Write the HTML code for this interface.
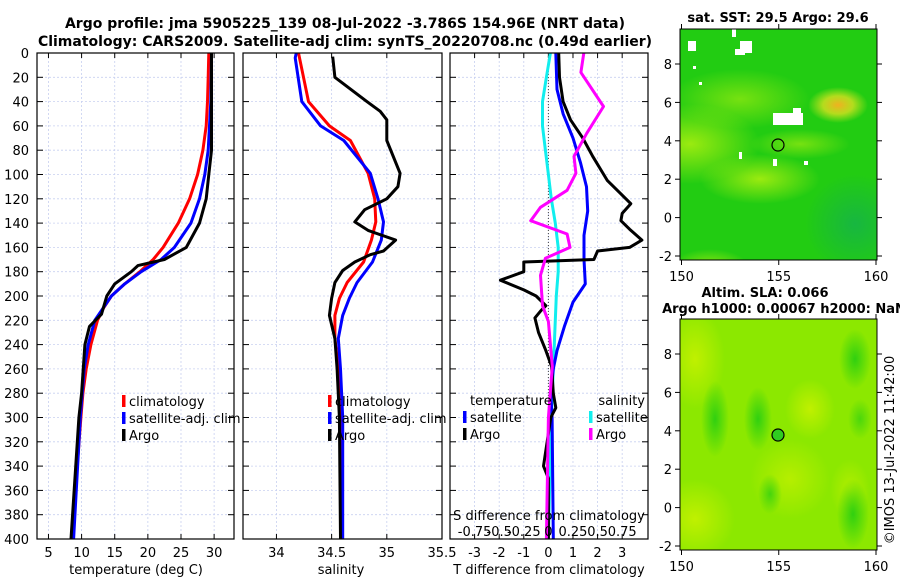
<!DOCTYPE html>
<html><head><meta charset="utf-8"><style>
body{margin:0;background:#fff;width:900px;height:580px;overflow:hidden}
svg{font-family:"DejaVu Sans","Liberation Sans",sans-serif}
</style></head><body>
<svg id="fig" width="900" height="580" viewBox="0 0 900 580" xmlns="http://www.w3.org/2000/svg">
<defs>
<radialGradient id="gy" cx="50%" cy="50%" r="50%"><stop offset="0" stop-color="#a8ee10" stop-opacity="0.9"/><stop offset="1" stop-color="#a8ee10" stop-opacity="0"/></radialGradient>
<radialGradient id="go" cx="50%" cy="50%" r="50%"><stop offset="0" stop-color="#f0b020"/><stop offset="0.5" stop-color="#d8e020" stop-opacity="0.8"/><stop offset="1" stop-color="#c8e820" stop-opacity="0"/></radialGradient>
<radialGradient id="gt" cx="50%" cy="50%" r="50%"><stop offset="0" stop-color="#10a860" stop-opacity="0.6"/><stop offset="1" stop-color="#10a860" stop-opacity="0"/></radialGradient>
<radialGradient id="gg" cx="50%" cy="50%" r="50%"><stop offset="0" stop-color="#30d010"/><stop offset="1" stop-color="#30d010" stop-opacity="0"/></radialGradient>
<radialGradient id="gl" cx="50%" cy="50%" r="50%"><stop offset="0" stop-color="#c0f000"/><stop offset="1" stop-color="#c0f000" stop-opacity="0"/></radialGradient>
</defs>
<g font-weight="bold" font-size="14" text-anchor="middle">
<text x="345" y="28">Argo profile: jma 5905225_139 08-Jul-2022 -3.786S 154.96E (NRT data)</text>
<text x="345" y="46">Climatology: CARS2009. Satellite-adj clim: synTS_20220708.nc (0.49d earlier)</text>
</g>
<g id="plots"></g>

<!-- SST map -->
<g>
<text x="778" y="22" font-size="13" font-weight="bold" text-anchor="middle">sat. SST: 29.5 Argo: 29.6</text>
<svg x="680" y="29" width="197" height="231" viewBox="0 0 197 231">
<rect width="197" height="231" fill="#22cc12"/>
<ellipse cx="10" cy="115" rx="70" ry="40" fill="url(#gy)"/>
<ellipse cx="80" cy="150" rx="60" ry="25" fill="url(#gy)"/>
<ellipse cx="60" cy="70" rx="70" ry="30" fill="url(#gy)" opacity="0.7"/>
<ellipse cx="120" cy="115" rx="50" ry="15" fill="url(#gy)" opacity="0.7"/>
<ellipse cx="158" cy="76" rx="30" ry="18" fill="url(#go)"/>
<ellipse cx="175" cy="195" rx="50" ry="50" fill="url(#gt)"/>
<ellipse cx="30" cy="240" rx="40" ry="20" fill="url(#gy)"/>
<rect x="8" y="12" width="8" height="10" fill="#fff"/><rect x="52" y="0" width="4" height="8" fill="#fff"/>
<rect x="60" y="12" width="12" height="12" fill="#fff"/><rect x="55" y="20" width="10" height="6" fill="#fff"/>
<rect x="93" y="84" width="30" height="12" fill="#fff"/><rect x="113" y="79" width="8" height="6" fill="#fff"/>
<rect x="59" y="123" width="3" height="7" fill="#fff"/><rect x="93" y="130" width="4" height="7" fill="#fff"/><rect x="124" y="132" width="4" height="4" fill="#fff"/>
<rect x="19" y="53" width="3" height="3" fill="#fff"/><rect x="13" y="37" width="3" height="3" fill="#fff"/>
<circle cx="98" cy="116" r="6" fill="none" stroke="#000" stroke-width="1.2"/>
</svg>
<rect x="680" y="29" width="197" height="231" fill="none" stroke="#000"/>
</g>
<!-- SLA map -->
<g>
<text x="765" y="297" font-size="13" font-weight="bold" text-anchor="middle">Altim. SLA: 0.066</text>
<text x="784" y="313" font-size="13" font-weight="bold" text-anchor="middle">Argo h1000: 0.00067 h2000: NaN</text>
<svg x="680" y="319" width="197" height="231" viewBox="0 0 197 231">
<rect width="197" height="231" fill="#8ce800"/>
<ellipse cx="15" cy="200" rx="40" ry="40" fill="url(#gl)"/>
<ellipse cx="15" cy="40" rx="30" ry="50" fill="url(#gl)"/>
<ellipse cx="110" cy="160" rx="40" ry="40" fill="url(#gl)" opacity="0.8"/>
<ellipse cx="130" cy="90" rx="25" ry="30" fill="url(#gl)"/>
<ellipse cx="170" cy="170" rx="20" ry="30" fill="url(#gl)" opacity="0.7"/>
<ellipse cx="35" cy="100" rx="14" ry="38" fill="url(#gg)"/>
<ellipse cx="78" cy="100" rx="14" ry="32" fill="url(#gg)"/>
<ellipse cx="175" cy="40" rx="16" ry="30" fill="url(#gg)"/>
<ellipse cx="173" cy="195" rx="16" ry="35" fill="url(#gg)"/>
<ellipse cx="90" cy="175" rx="12" ry="20" fill="url(#gg)" opacity="0.8"/>
<ellipse cx="180" cy="100" rx="12" ry="20" fill="url(#gg)" opacity="0.7"/>
<circle cx="98" cy="116" r="6" fill="#30cc20" stroke="#000" stroke-width="1.2"/>
</svg>
<rect x="680" y="319" width="197" height="231" fill="none" stroke="#000"/>
</g>
<text transform="translate(894,450) rotate(-90)" font-size="13" text-anchor="middle">©IMOS 13-Jul-2022 11:42:00</text>
</svg>
<script>
// ---- data ----
const depthTicks=[0,20,40,60,80,100,120,140,160,180,200,220,240,260,280,300,320,340,360,380,400];
const tTicks=[5,10,15,20,25,30];
const sTicks=[34,34.5,35,35.5];
const sTickLabels=["34","34.5","35","35.5"];
const dTicks=[-3,-2,-1,0,1,2,3];
const dsTickLabels=["-0.75","-0.5","-0.25","0","0.25","0.5","0.75"];
const dsTickVals=[-0.75,-0.5,-0.25,0,0.25,0.5,0.75];
// temperature profiles [depth, value]
const tempClim=[[0,29.2],[20,29.1],[40,29.0],[60,28.8],[80,28.3],[100,27.5],[120,26.3],[140,24.6],[160,22.3],[170,20.8],[180,18.8],[190,16.5],[200,14.5],[210,13.3],[220,12.4],[240,11.4],[260,10.7],[280,10.2],[300,9.9],[350,9.2],[400,8.6]];
const tempSat=[[0,29.6],[40,29.5],[60,29.3],[80,29.1],[100,28.6],[120,27.8],[140,26.5],[160,24.0],[170,22.0],[180,19.0],[190,16.5],[200,14.5],[220,12.0],[240,11.0],[260,10.4],[300,9.8],[400,8.8]];
const tempArgo=[[0,29.6],[60,29.6],[80,29.6],[100,29.2],[120,28.8],[140,27.8],[160,25.8],[170,22.5],[175,18.5],[180,17.5],[190,15.0],[200,13.8],[215,13.0],[225,11.2],[240,10.5],[280,10.0],[300,9.6],[400,8.4]];
// salinity profiles
const salClim=[[0,34.2],[40,34.29],[60,34.48],[72,34.67],[99,34.83],[120,34.89],[139,34.9],[154,34.86],[172,34.79],[189,34.64],[202,34.57],[216,34.53],[235,34.53],[260,34.56],[300,34.58],[400,34.58]];
const salSat=[[0,34.18],[4,34.17],[40,34.23],[60,34.4],[72,34.61],[99,34.85],[120,34.92],[139,34.97],[154,34.95],[172,34.87],[189,34.73],[202,34.66],[216,34.6],[235,34.56],[260,34.58],[300,34.6],[400,34.6]];
const salArgo=[[3,34.51],[20,34.53],[40,34.82],[48,34.94],[55,35.0],[72,35.0],[99,35.12],[110,35.1],[120,35.0],[129,34.8],[139,34.71],[146,34.83],[154,35.08],[163,34.97],[166,34.85],[172,34.71],[179,34.6],[189,34.53],[202,34.5],[216,34.48],[235,34.53],[260,34.55],[300,34.57],[400,34.58]];
// differences from climatology
const dTsat=[[0,0.3],[30,0.35],[50,0.6],[70,1.0],[90,1.3],[110,1.55],[130,1.6],[150,1.45],[170,1.45],[190,1.5],[205,1.0],[225,0.65],[245,0.35],[260,0.2],[280,0.1],[300,0.15],[400,0.2]];
const dTargo=[[0,0.42],[20,0.45],[40,0.6],[55,0.9],[70,1.4],[85,1.8],[95,2.1],[105,2.4],[115,2.9],[124,3.35],[132,3.0],[138,2.95],[145,3.3],[154,3.8],[160,3.3],[163,2.0],[170,1.85],[172,-1.0],[180,-1.0],[187,-1.95],[195,-1.0],[200,-0.5],[208,-0.1],[212,-0.3],[218,-0.55],[230,-0.4],[245,-0.1],[258,0.13],[280,0.2],[292,0.3],[300,0.1],[340,-0.2],[350,0],[400,0]];
const dSsat=[[0,0.02],[20,-0.02],[40,-0.06],[60,-0.06],[80,-0.03],[100,0.0],[120,0.03],[140,0.07],[160,0.1],[180,0.1],[200,0.08],[220,0.07],[260,0.05],[300,0.03],[400,0.0]];
const dSargo=[[0,0.36],[16,0.33],[44,0.56],[66,0.39],[85,0.26],[99,0.28],[113,0.19],[127,-0.08],[138,-0.18],[149,0.19],[160,0.22],[169,-0.03],[183,-0.08],[208,-0.06],[221,0.0],[258,0.04],[300,0.0],[400,-0.02]];

const NS='http://www.w3.org/2000/svg';
const root=document.getElementById('plots');
function mk(tag,attrs,parent){const e=document.createElementNS(NS,tag);for(const k in attrs)e.setAttribute(k,attrs[k]);(parent||root).appendChild(e);return e;}
const Y0=53,Y1=539;
function yD(d){return Y0+d/400*(Y1-Y0);}
function panel(name,x0,x1,lo,hi){
  const g=mk('g',{});
  
  
  return {g,x0,x1,sx:v=>x0+(v-lo)/(hi-lo)*(x1-x0)};
}
function grid(p,xt){
  depthTicks.forEach(d=>{mk('line',{x1:p.x0,x2:p.x1,y1:yD(d),y2:yD(d),stroke:'#c8d0f0','stroke-width':0.8,'stroke-dasharray':'2,2'},p.g);
    mk('line',{x1:p.x0,x2:p.x0+6,y1:yD(d),y2:yD(d),stroke:'#000'},p.g);mk('line',{x1:p.x1-6,x2:p.x1,y1:yD(d),y2:yD(d),stroke:'#000'},p.g);});
  xt.forEach(v=>{const x=p.sx(v);mk('line',{x1:x,x2:x,y1:Y0,y2:Y1,stroke:'#c8d0f0','stroke-width':0.8,'stroke-dasharray':'2,2'},p.g);
    mk('line',{x1:x,x2:x,y1:Y1-5,y2:Y1,stroke:'#000'},p.g);mk('line',{x1:x,x2:x,y1:Y0,y2:Y0+5,stroke:'#000'},p.g);});
}
function line(p,data,color,name,sx){
  const f=sx||p.sx;
  const pts=data.map(r=>f(r[1]).toFixed(1)+','+yD(r[0]).toFixed(1)).join(' ');
  const e=mk('polyline',{points:pts,fill:'none',stroke:color,'stroke-width':3,'stroke-linejoin':'round'},p.g);
  
  
}
function frame(p){mk('rect',{x:p.x0,y:Y0,width:p.x1-p.x0,height:Y1-Y0,fill:'none',stroke:'#000','stroke-width':1.2},p.g);}
function txt(p,x,y,s,opt){const e=mk('text',Object.assign({x,y,'font-size':13},opt||{}),p.g);e.textContent=s;return e;}
function legend(p,x,y,items){
  items.forEach((it,i)=>{const r=mk('rect',{x:x,y:y+i*17-11,width:3.5,height:12,fill:it[1]},p.g);
    const t=txt(p,x+7,y+i*17,it[0]);
    
    });
}
// panel 1
const p1=panel('temperature-panel',37,234,3.27,33.0);
grid(p1,tTicks);
line(p1,tempClim,'#f00','climatology-temperature-line');
line(p1,tempSat,'#00f','satellite-temperature-line');
line(p1,tempArgo,'#000','argo-temperature-line');
frame(p1);
depthTicks.forEach(d=>txt(p1,29,yD(d)+5,String(d),{'text-anchor':'end'}));
tTicks.forEach(v=>txt(p1,p1.sx(v),557,String(v),{'text-anchor':'middle'}));
txt(p1,136,574,'temperature (deg C)',{'text-anchor':'middle'});
legend(p1,122,406,[['climatology','#f00'],['satellite-adj. clim','#00f'],['Argo','#000']]);
// panel 2
const p2=panel('salinity-panel',243,442,33.697,35.5);
grid(p2,sTicks.slice(0,3));
line(p2,salClim,'#f00','climatology-salinity-line');
line(p2,salSat,'#00f','satellite-salinity-line');
line(p2,salArgo,'#000','argo-salinity-line');
frame(p2);
sTicks.forEach((v,i)=>txt(p2,p2.sx(v),557,sTickLabels[i],{'text-anchor':'middle'}));
txt(p2,341,574,'salinity',{'text-anchor':'middle'});
legend(p2,328,406,[['climatology','#f00'],['satellite-adj. clim','#00f'],['Argo','#000']]);
// panel 3
const p3=panel('difference-panel',450,648,-4.0,4.05);
grid(p3,dTicks);
const sxS=v=>p3.sx(v*4);
mk('line',{x1:p3.sx(0),x2:p3.sx(0),y1:Y0,y2:Y1,stroke:'#444','stroke-width':1,'stroke-dasharray':'1,2'},p3.g);
line(p3,dSsat,'#1ee','satellite-salinity-diff-line',sxS);
line(p3,dTsat,'#00f','satellite-temperature-diff-line');
line(p3,dTargo,'#000','argo-temperature-diff-line');
line(p3,dSargo,'#f0f','argo-salinity-diff-line',sxS);
frame(p3);
dTicks.forEach(v=>txt(p3,p3.sx(v),557,String(v),{'text-anchor':'middle'}));
txt(p3,549,574,'T difference from climatology',{'text-anchor':'middle'});
txt(p3,549,520,'S difference from climatology',{'text-anchor':'middle'});
dsTickVals.forEach((v,i)=>txt(p3,sxS(v),536,dsTickLabels[i],{'text-anchor':'middle'}));
txt(p3,470,405,'temperature');
txt(p3,645,405,'salinity',{'text-anchor':'end'});
legend(p3,463,422,[['satellite','#00f'],['Argo','#000']]);
legend(p3,589,422,[['satellite','#1ee'],['Argo','#f0f']]);
// map axes
const mapLonTicks=[150,155,160];
const mapLatTicks=[8,6,4,2,0,-2];
function mapAxes(top,name){
  const g=mk('g',{},document.getElementById('fig'));
  
  
  const mx=v=>681.5+(v-150)/10*194.5;
  const my=v=>top+35+(8-v)/10*192;
  mapLonTicks.forEach(v=>{mk('line',{x1:mx(v),x2:mx(v),y1:top+231,y2:top+236,stroke:'#000'},g);mk('line',{x1:mx(v),x2:mx(v),y1:top-5,y2:top,stroke:'#000'},g);
    const t=mk('text',{x:mx(v),y:top+252,'font-size':13,'text-anchor':'middle'},g);t.textContent=v;});
  mapLatTicks.forEach(v=>{mk('line',{x1:675,x2:680,y1:my(v),y2:my(v),stroke:'#000'},g);mk('line',{x1:877,x2:882,y1:my(v),y2:my(v),stroke:'#000'},g);
    const t=mk('text',{x:672,y:my(v)+5,'font-size':13,'text-anchor':'end'},g);t.textContent=v;});
}
mapAxes(29,'sst-map-axes');
mapAxes(319,'sla-map-axes');
</script>
</body></html>
